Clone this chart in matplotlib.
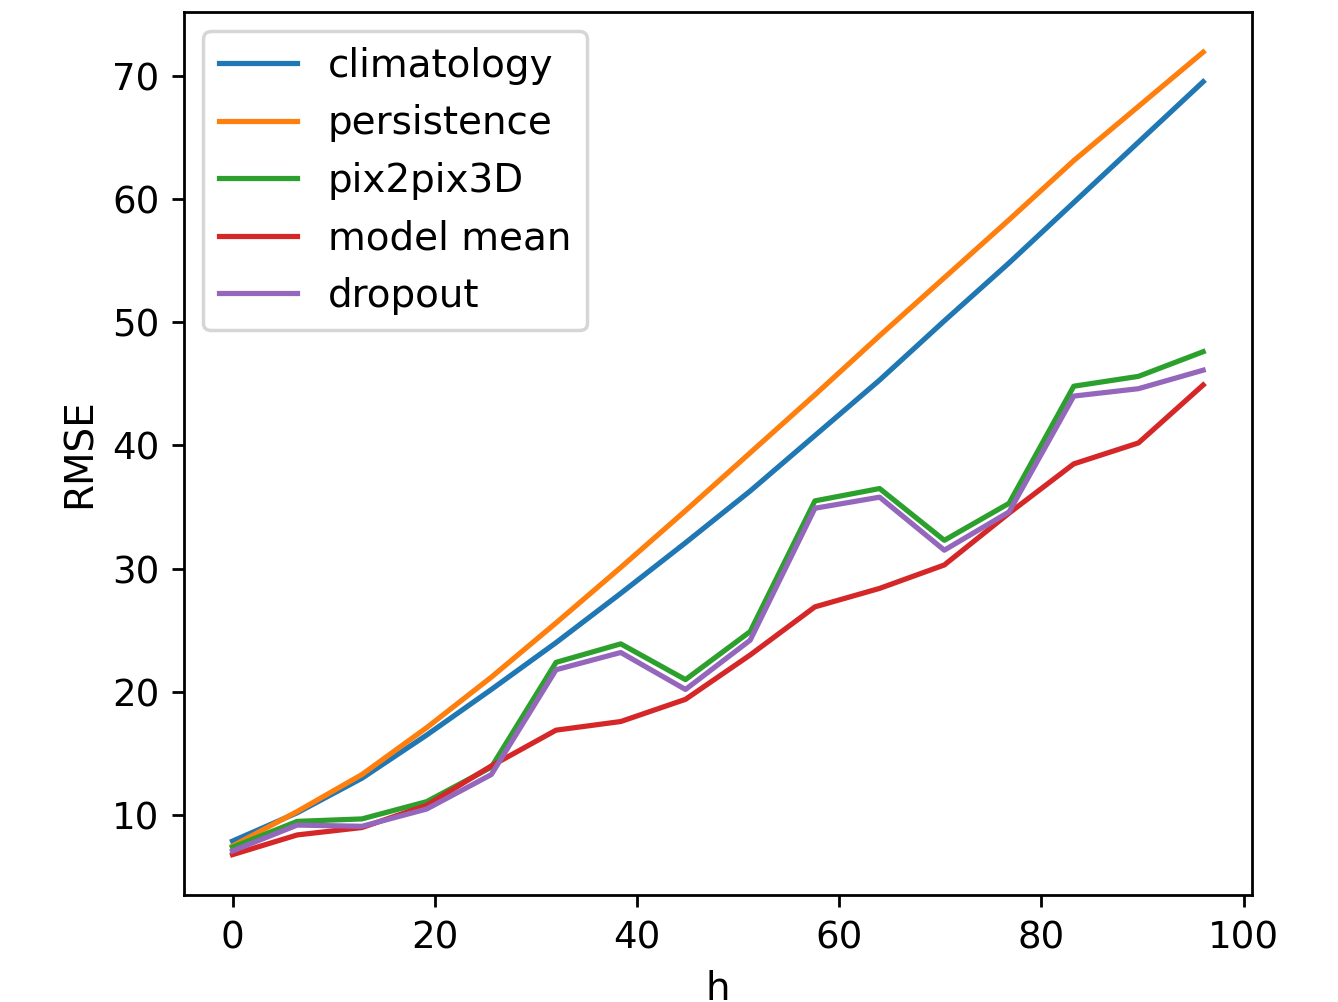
import matplotlib
matplotlib.use("Agg")
import matplotlib.pyplot as plt

# horizon steps (16 points, 0 .. 96)
H = [0, 6.4, 12.8, 19.2, 25.6, 32, 38.4, 44.8, 51.2, 57.6, 64, 70.4, 76.8, 83.2, 89.6, 96]

CLIMATOLOGY = [7.9, 10.2, 13.0, 16.5, 20.2, 24.0, 28.0, 32.1, 36.3, 40.8, 45.3, 50.1, 54.8, 59.7, 64.6, 69.5]
PERSISTENCE = [7.5, 10.3, 13.3, 17.1, 21.2, 25.6, 30.1, 34.7, 39.4, 44.1, 48.9, 53.6, 58.3, 63.1, 67.5, 71.9]
PIX2PIX3D = [7.4, 9.5, 9.7, 11.1, 13.9, 22.4, 23.9, 21.0, 24.9, 35.5, 36.5, 32.3, 35.3, 44.8, 45.6, 47.6]
MODEL_MEAN = [6.8, 8.4, 9.0, 10.8, 14.0, 16.9, 17.6, 19.4, 23.0, 26.9, 28.4, 30.3, 34.5, 38.5, 40.2, 44.9]
DROPOUT = [7.1, 9.2, 9.1, 10.5, 13.3, 21.8, 23.2, 20.2, 24.2, 34.9, 35.8, 31.5, 34.6, 44.0, 44.6, 46.1]

SERIES = [
    ("climatology", CLIMATOLOGY),
    ("persistence", PERSISTENCE),
    ("pix2pix3D", PIX2PIX3D),
    ("model mean", MODEL_MEAN),
    ("dropout", DROPOUT),
]


def main() -> None:
    fig = plt.figure(figsize=(1338 / 250, 1002 / 250), dpi=250)
    ax = fig.add_axes([0.1375, 0.107, 0.798, 0.881])

    for label, vals in SERIES:
        ax.plot(H, vals, label=label)

    ax.set_xlabel("h", fontsize=11.2)
    ax.set_ylabel("RMSE", fontsize=11.2)
    ax.set_xticks([0, 20, 40, 60, 80, 100])
    ax.set_yticks([10, 20, 30, 40, 50, 60, 70])
    ax.tick_params(labelsize=10.7)
    ax.legend(loc="upper left", fontsize=11.2)

    fig.savefig("out.png", dpi=250)
    plt.close(fig)


if __name__ == "__main__":
    main()
